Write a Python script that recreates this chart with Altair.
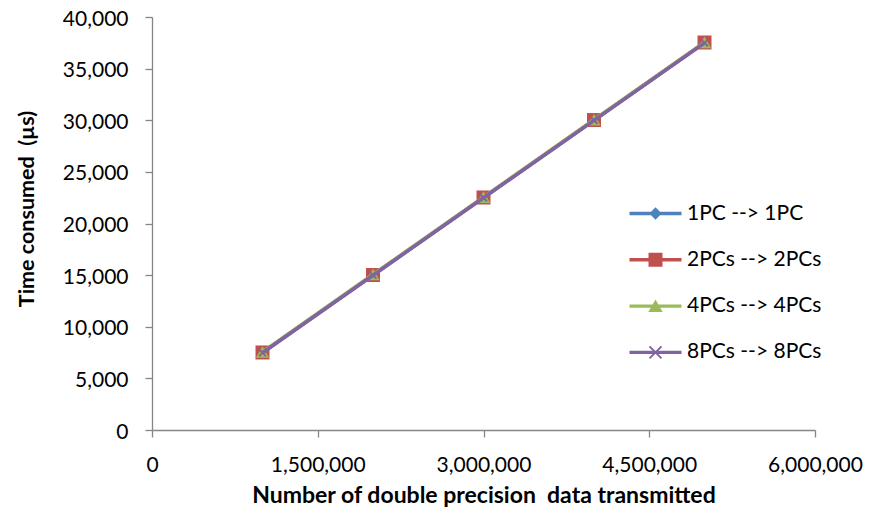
import altair as alt
import pandas as pd

# ---- data ----
x_values = [1000000, 2000000, 3000000, 4000000, 5000000]
series_names = ["1PC --> 1PC", "2PCs --> 2PCs", "4PCs --> 4PCs", "8PCs --> 8PCs"]
pc1 = [7500, 15000, 22500, 30000, 37500]
pc2 = [7510, 15010, 22520, 30020, 37530]
pc4 = [7560, 15060, 22560, 30050, 37540]
pc8 = [7480, 14990, 22490, 29990, 37490]
x_ticks = [0, 1500000, 3000000, 4500000, 6000000]
y_ticks = [0, 5000, 10000, 15000, 20000, 25000, 30000, 35000, 40000]

colors = ["#4F81BD", "#C0504D", "#9BBB59", "#8064A2"]

rows = []
for name, vals in zip(series_names, [pc1, pc2, pc4, pc8]):
    for xv, yv in zip(x_values, vals):
        rows.append({"series": name, "x": xv, "y": yv})
df = pd.DataFrame(rows)

# ---- marker styles ----
X_PATH = "M-1,-1L1,1M-1,1L1,-1"
plot_markers = [
    dict(shape="diamond", filled=True, size=140, strokeWidth=0),
    dict(shape="square", filled=True, size=196, strokeWidth=0),
    dict(shape="triangle-up", filled=True, size=180, strokeWidth=0),
    dict(shape=X_PATH, filled=False, size=46, strokeWidth=2),
]

LINE = "M-2.6,-0.17H2.6V0.17H-2.6Z"
legend_paths = [
    LINE + "M0,-0.62L0.62,0L0,0.62L-0.62,0Z",
    LINE + "M-0.7,-0.7H0.7V0.7H-0.7Z",
    LINE + "M0,-0.65L0.72,0.6L-0.72,0.6Z",
    LINE + "M-0.53,-0.67L0.67,0.53L0.53,0.67L-0.67,-0.53Z"
    + "M0.67,-0.53L-0.53,0.67L-0.67,0.53L0.53,-0.67Z",
]

FONT = "Lato"
AXIS_GREY = "#868686"

xenc = alt.X(
    "x:Q",
    scale=alt.Scale(domain=[0, 6000000], nice=False, zero=True),
    axis=alt.Axis(
        values=x_ticks, format=",d", grid=False,
        title="Number of double precision\u00a0 data transmitted",
        titleFont=FONT, titleFontSize=23, titleFontWeight="bold", titleColor="black",
        titleY=72, titleBaseline="alphabetic",
        labelFont=FONT, labelFontSize=21, labelColor="black", labelPadding=17,
        labelFlush=False, labelOverlap=False,
        domainColor=AXIS_GREY, tickColor=AXIS_GREY, tickSize=7, domainWidth=1.3, tickWidth=1.3,
    ),
)
yenc = alt.Y(
    "y:Q",
    scale=alt.Scale(domain=[0, 40000], nice=False),
    axis=alt.Axis(
        values=y_ticks, format=",d", grid=False,
        title="Time consumed\u00a0 (µs)",
        titleFont=FONT, titleFontSize=21.5, titleFontWeight="bold", titleColor="black",
        titleX=-125, titleY=191.5, titleAngle=270, titleAlign="center", titleBaseline="middle",
        labelFont=FONT, labelFontSize=21, labelColor="black", labelPadding=17,
        labelOffset=2, labelFlush=False, labelOverlap=False,
        domainColor=AXIS_GREY, tickColor=AXIS_GREY, tickSize=7, domainWidth=1.3, tickWidth=1.3,
    ),
)

color_scale = alt.Scale(domain=series_names, range=colors)
base = alt.Chart(df)

# invisible layer that carries the legend (line + marker symbols); listed first so its legend wins
legend_props = dict(
    title=None, orient="none", legendX=493, legendY=186, padding=0,
    symbolSize=400, symbolOpacity=1, symbolStrokeWidth=0,
    labelFont=FONT, labelFontSize=21, labelColor="black", labelOffset=21,
    rowPadding=24.3, labelLimit=300,
)
legend_layer = base.mark_point(filled=True, opacity=0, size=400).encode(
    x=xenc, y=yenc,
    color=alt.Color("series:N", scale=color_scale, legend=alt.Legend(**legend_props)),
    shape=alt.Shape("series:N", scale=alt.Scale(domain=series_names, range=legend_paths),
                    legend=alt.Legend(**legend_props)),
)
layers = [legend_layer]

for name, mk in zip(series_names, plot_markers):
    sub = base.transform_filter(alt.datum.series == name)
    line = sub.mark_line(strokeWidth=3.5).encode(
        x=xenc, y=yenc,
        color=alt.Color("series:N", scale=color_scale, legend=None),
    )
    pts = sub.mark_point(opacity=1, **mk).encode(
        x=xenc, y=yenc,
        color=alt.Color("series:N", scale=color_scale, legend=None),
    )
    layers += [line, pts]

chart = alt.layer(*layers).properties(
    width=663, height=413,
    padding={"left": 152, "top": 17, "right": 55, "bottom": 86},
    autosize="none",
    background="white",
).configure_view(stroke=None)

chart.save("out.html", embed_options={"renderer": "svg", "actions": False})
